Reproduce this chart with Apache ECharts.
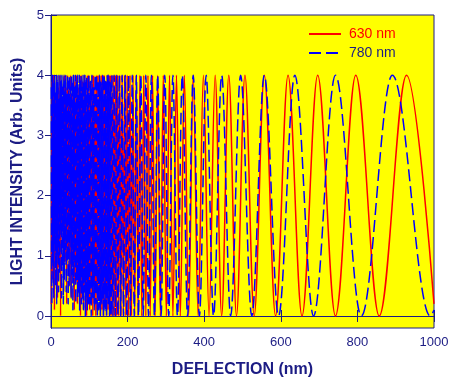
<!DOCTYPE html>
<html>
<head>
<meta charset="utf-8">
<script src="https://cdn.jsdelivr.net/npm/echarts@6/dist/echarts.min.js"></script>
<style>
html,body{margin:0;padding:0;background:#fff;}
#c{width:449px;height:379px;}
</style>
</head>
<body>
<div id="c"></div>
<script>
// Tick labels
var xTicks = [0, 200, 400, 600, 800, 1000];
var yTicks = [0, 1, 2, 3, 4, 5];

// 630 nm series (deflection nm, intensity) (extrema)
var red630X = [1,3,5,7,9,11,13,15,17,19,21,23,25,27,29,31,33,35,37,39,41,43,45,47,49,51,53,55,57,59,61,63,65,67,69,71,73,75,77,79,81,83,85,87,89,91,93,95,97,99,101,103,105,107,109,111,113,115,117,119,121,123,125,127,129,131,133,135,137,139,141,143,145,147,149,151,153,155,157,
159.1,161.4,163.8,166.3,168.8,171.4,174.1,176.8,179.7,182.6,185.7,188.8,192.1,195.4,198.9,202.5,206.3,210.2,214.2,218.4,222.8,227.3,232.1,237.0,242.2,247.6,253.2,259.1,265.2,271.7,278.5,285.6,293.2,301.1,309.4,318.3,327.6,337.6,348.1,359.4,371.3,384.1,397.9,412.6,428.5,445.6,464.2,484.3,506.4,530.5,557.0,586.3,618.9,655.3,696.3,742.7,795.7,856.9,928.3,1000];
var red630Y = [0.2,3.9,0.6,4.0,0.1,3.7,1.0,4.0,0.3,3.8,0.8,4.0,0.0,3.9,1.4,3.6,0.4,4.0,0.9,3.8,0.2,4.0,1.1,3.9,0.5,4.0,0.3,3.7,0.9,4.0,0.1,3.9,0.6,4.0,0.2,3.8,0.4,4.0,0.0,4.0,0.3,3.9,0.1,4.0,0.5,3.8,0.0,4.0,0.2,4.0,0.1,3.9,0.3,4.0,0.0,4.0,0.2,3.8,0.0,4.0,0.1,4.0,0.3,3.9,0.0,4.0,0.1,4.0,0.0,4.0,0.2,3.9,0.0,4.0,0.1,4.0,0.0,4.0,0.0,
4,0,4,0,4,0,4,0,4,0,4,0,4,0,4,0,4,0,4,0,4,0,4,0,4,0,4,0,4,0,4,0,4,0,4,0,4,0,4,0,4,0,4,0,4,0,4,0,4,0,4,0,4,0,4,0,4,0,4,0.2];

// 780 nm series
var blue780X = [1.0,2.25,3.5,4.75,6.0,7.25,8.5,9.75,11.0,12.25,13.5,14.75,16.0,17.25,18.5,19.75,21.0,22.25,23.5,24.75,
26.0,27.25,28.5,29.75,31.0,32.25,33.5,34.75,36.0,37.25,38.5,39.75,41.0,42.25,43.5,44.75,46.0,47.25,48.5,49.75,
51.0,52.25,53.5,54.75,56.0,57.25,58.5,59.75,61.0,62.25,63.5,64.75,66.0,67.25,68.5,69.75,71.0,72.25,73.5,74.75,
76.0,77.25,78.5,79.75,81.0,82.25,83.5,84.75,86.0,87.25,88.5,89.75,91.0,92.25,93.5,94.75,96.0,97.25,98.5,
101,103,105,107,109,111,113,115,117,119,121,123,125,127,129,131,133,135,137,139,141,143,145,147,149,151,153,155,157,
159.1,162.0,165.0,168.2,171.4,174.7,178.2,181.9,185.7,189.6,193.7,198.0,202.5,207.3,212.2,217.4,222.8,228.5,234.5,240.9,247.6,254.6,262.1,270.1,278.5,287.5,297.1,307.3,318.3,330.1,342.8,356.5,371.3,387.5,405.1,424.4,445.6,469.1,495.1,524.2,557.0,594.1,636.6,685.5,742.7,810.2,891.2,990.2,1000];
var blue780Y = [3.8,0.2,4.0,0.9,3.9,0.3,4.0,1.2,3.7,0.5,
4.0,0.2,3.9,1.0,4.0,0.4,3.6,0.7,4.0,1.4,
3.9,0.3,4.0,0.8,3.8,0.2,4.0,0.6,3.9,1.1,
4.0,0.4,3.7,0.9,4.0,0.2,3.9,0.5,4.0,1.3,
3.8,0.3,4.0,0.7,3.9,0.1,4.0,0.5,3.8,0.9,
4.0,0.2,3.9,0.6,4.0,0.3,3.7,0.4,4.0,0.1,
3.9,0.5,4.0,0.2,3.8,0.3,4.0,0.1,3.9,0.4,
4.0,0.0,3.9,0.3,4.0,0.1,3.8,0.2,4.0,
0.2,3.9,0.0,4.0,0.3,3.8,0.1,4.0,0.2,4.0,0.0,3.9,0.1,4.0,0.0,3.9,0.2,4.0,0.0,4.0,0.1,3.9,0.0,4.0,0.2,4.0,0.0,3.9,0.0,
4,0,4,0,4,0,4,0,4,0,4,0,4,0,4,0,4,0,4,0,4,0,4,0,4,0,4,0,4,0,4,0,4,0,4,0,4,0,4,0,4,0,4,0,4,0,4,0,0.1];

var seriesNames = ['630 nm', '780 nm'];

function pairs(xs, ys){ return xs.map(function(x,i){ return [x, ys[i]]; }); }

var navy = '#1c1c84';
var font = 'Liberation Sans, Arial, sans-serif';

var chart = echarts.init(document.getElementById('c'), null, {renderer:'canvas'});
chart.setOption({
  animation: false,
  backgroundColor: '#ffffff',
  grid: {left: 51, right: 15, top: 15, bottom: 51, show: true, backgroundColor: '#ffff00', borderColor: navy, borderWidth: 1, outerBoundsMode: 'none'},
  legend: {
    orient: 'vertical', left: 303, top: 22, itemWidth: 32, itemHeight: 14, itemGap: 5,
    itemStyle: {opacity: 0},
    textStyle: {fontFamily: font, fontSize: 14, padding: [0,0,0,3]},
    data: [
      {name: seriesNames[0], textStyle: {color: '#ff0000'}},
      {name: seriesNames[1], textStyle: {color: navy}}
    ]
  },
  xAxis: [
    {type: 'value', min: 0, max: 1000, interval: 200, position: 'bottom',
     name: 'DEFLECTION (nm)', nameLocation: 'middle', nameGap: 34,
     nameTextStyle: {fontFamily: font, fontSize: 16, fontWeight: 'bold', color: navy},
     axisLine: {show: true, lineStyle: {color: navy}},
     axisTick: {show: true, inside: true, length: 6, lineStyle: {color: navy}},
     axisLabel: {fontFamily: font, fontSize: 13, color: navy, margin: 8, customValues: xTicks,
       formatter: function(v){ return String(v); }},
     splitLine: {show: false}},
    {type: 'value', min: 0, max: 1000, interval: 200, position: 'top',
     axisLine: {show: true, lineStyle: {color: navy}},
     axisTick: {show: true, inside: true, length: 6, lineStyle: {color: navy}},
     axisLabel: {show: false}, splitLine: {show: false}}
  ],
  yAxis: [
    {type: 'value', min: -0.2, max: 5, position: 'left',
     name: 'LIGHT INTENSITY (Arb. Units)', nameLocation: 'middle', nameGap: 20,
     nameTextStyle: {fontFamily: font, fontSize: 16, fontWeight: 'bold', color: navy},
     axisLine: {show: true, lineStyle: {color: navy}},
     axisTick: {show: true, inside: true, length: 6, customValues: yTicks, lineStyle: {color: navy}},
     axisLabel: {fontFamily: font, fontSize: 13, color: navy, margin: 7, customValues: yTicks},
     splitLine: {show: false}},
    {type: 'value', min: -0.2, max: 5, position: 'right',
     axisLine: {show: true, lineStyle: {color: navy}},
     axisTick: {show: true, inside: true, length: 6, customValues: yTicks, lineStyle: {color: navy}},
     axisLabel: {show: false}, splitLine: {show: false}}
  ],
  series: [
    {name: seriesNames[0], type: 'line', data: pairs(red630X, red630Y), showSymbol: false, symbol: 'none',
     smooth: 0.36, smoothMonotone: 'x', color: '#ff0000',
     lineStyle: {color: '#ff0000', width: 1.5}, z: 2},
    {name: seriesNames[1], type: 'line', data: pairs(blue780X, blue780Y), showSymbol: false, symbol: 'none',
     smooth: 0.36, smoothMonotone: 'x', color: '#0000ff',
     lineStyle: {color: '#0000ff', width: 1.5, type: [12, 5]}, z: 3}
  ]
});
</script>
</body>
</html>
